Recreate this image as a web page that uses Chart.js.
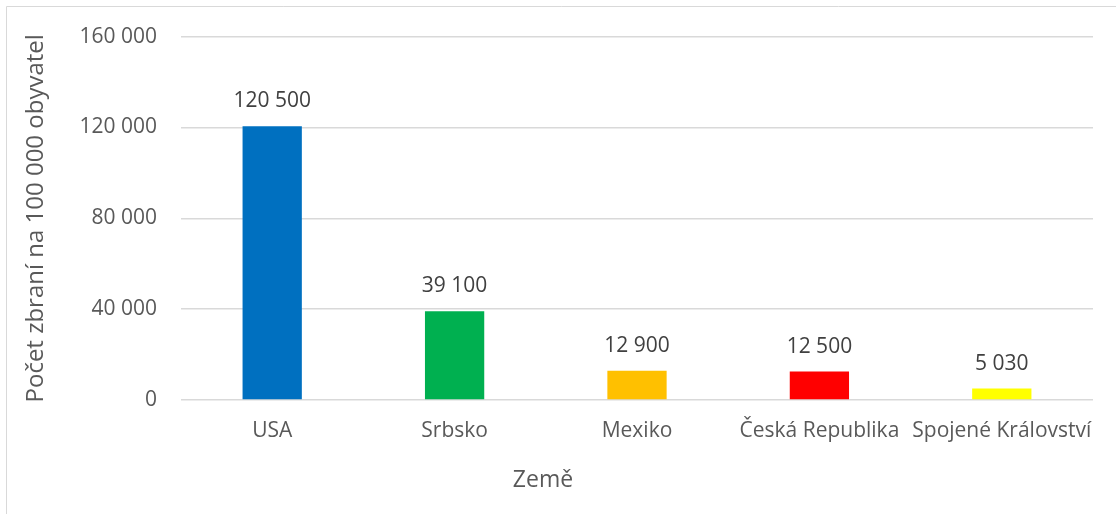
<!DOCTYPE html>
<html lang="cs">
<head>
<meta charset="UTF-8" />
<title>Počet zbraní na 100 000 obyvatel</title>
<script src="https://cdn.jsdelivr.net/npm/chart.js"></script>
<style>
  html, body { margin: 0; padding: 0; background: #fff; }
  #wrap { width: 1116px; height: 514px; position: relative; }
</style>
</head>
<body>
<div id="wrap"><canvas id="gunChart" width="1116" height="514"></canvas></div>
<script>
var countries = ["USA", "Srbsko", "Mexiko", "Česká Republika", "Spojené Království"];
var guns = [120500, 39100, 12900, 12500, 5030];
var barColors = ["#0070C0", "#00B050", "#FFC000", "#FF0000", "#FFFF00"];
var yTicks = [0, 40000, 80000, 120000, 160000];

var FONT = "'Open Sans', Calibri, sans-serif";
var GREY = "#595959";

function fmt(n) {
  return String(n).replace(/\B(?=(\d{3})+(?!\d))/g, " ");
}

// values above the bars
var valueLabels = {
  id: "valueLabels",
  afterDatasetsDraw: function(chart) {
    var ctx = chart.ctx;
    var meta = chart.getDatasetMeta(0);
    ctx.save();
    ctx.font = "21px " + FONT;
    ctx.fillStyle = "#404040";
    ctx.textAlign = "center";
    ctx.textBaseline = "middle";
    meta.data.forEach(function(bar, i) {
      ctx.fillText(fmt(guns[i]), bar.x, bar.y - 25);
    });
    ctx.restore();
  }
};

// frame + x axis title (centred on the whole chart box, like Excel)
var frame = {
  id: "frame",
  beforeDraw: function(chart) {
    var ctx = chart.ctx;
    ctx.save();
    ctx.strokeStyle = "#d9d9d9";
    ctx.lineWidth = 1;
    ctx.beginPath();
    ctx.moveTo(6.5, chart.height);
    ctx.lineTo(6.5, 6.5);
    ctx.lineTo(chart.width, 6.5);
    ctx.stroke();
    ctx.restore();
  },
  afterDraw: function(chart) {
    var ctx = chart.ctx;
    ctx.save();
    ctx.font = "23px " + FONT;
    ctx.fillStyle = GREY;
    ctx.textAlign = "center";
    ctx.textBaseline = "middle";
    ctx.fillText("Země", 543, 480);
    ctx.restore();
  }
};

new Chart(document.getElementById("gunChart"), {
  type: "bar",
  data: {
    labels: countries,
    datasets: [{
      data: guns,
      backgroundColor: barColors,
      barPercentage: 0.65,
      categoryPercentage: 0.5
    }]
  },
  options: {
    responsive: false,
    animation: false,
    layout: { padding: { top: 35, right: 23, bottom: 0, left: 22 } },
    plugins: {
      legend: { display: false },
      tooltip: { enabled: false }
    },
    scales: {
      x: {
        grid: { display: false },
        border: { display: false },
        ticks: { color: GREY, font: { family: FONT, size: 21 }, padding: 10, maxRotation: 0, autoSkip: false },
        afterFit: function(scale) { scale.height = 114; }
      },
      y: {
        min: 0,
        max: 160000,
        afterBuildTicks: function(scale) {
          scale.ticks = yTicks.map(function(v) { return { value: v }; });
        },
        grid: { color: "#d9d9d9", lineWidth: 1.5, drawTicks: false },
        border: { display: false },
        ticks: { color: GREY, font: { family: FONT, size: 21 }, padding: 24, callback: function(v) { return fmt(v); } },
        title: { display: true, text: "Počet zbraní na 100 000 obyvatel", color: GREY, font: { family: FONT, size: 24 }, padding: 0 },
        afterFit: function(scale) { scale.width = 159; }
      }
    }
  },
  plugins: [frame, valueLabels]
});
</script>
</body>
</html>
